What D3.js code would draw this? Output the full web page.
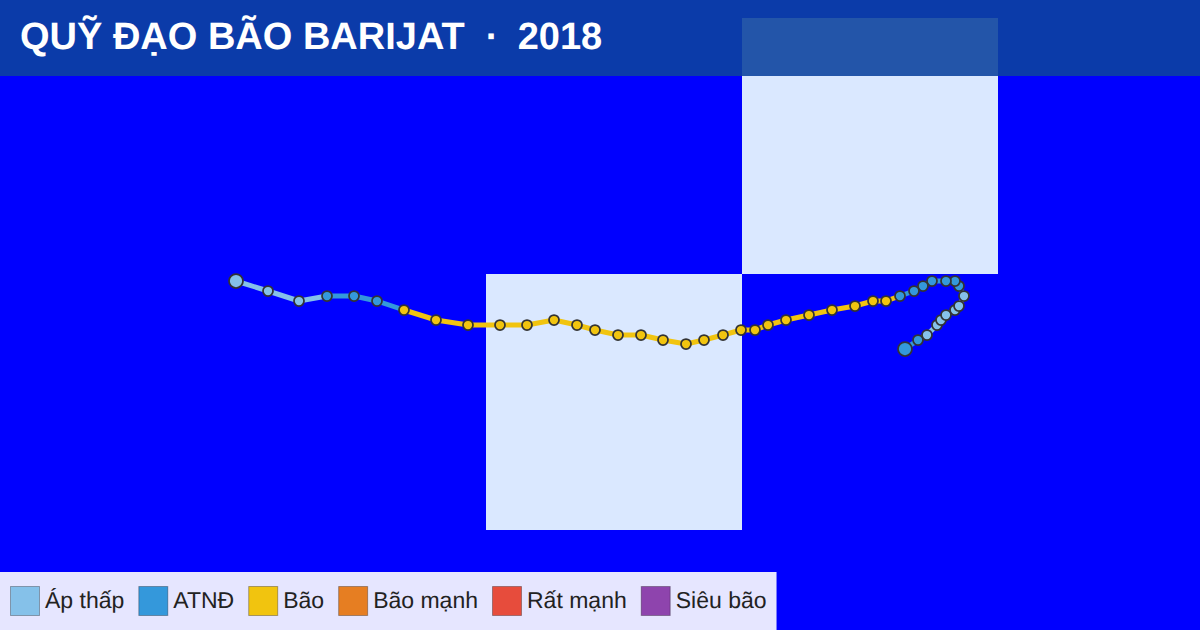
<!DOCTYPE html>
<html>
<head>
<meta charset="utf-8">
<script src="https://cdn.jsdelivr.net/npm/d3@7"></script>
<style>
html, body { margin: 0; padding: 0; background: #0000ff; }
svg { display: block; font-family: "Liberation Sans", Arial, sans-serif; text-rendering: geometricPrecision; }
</style>
</head>
<body>
<script>
// best track, east to west
var lons = [121.7, 122.0, 122.2, 122.4, 122.5, 122.6, 122.8, 122.9, 123.0, 122.9, 122.8, 122.6, 122.3, 122.1, 121.9, 121.6,
    121.28, 121.0, 120.6, 120.1, 119.6, 119.1, 118.7, 118.4, 118.1, 117.7, 117.3, 116.9, 116.38, 115.9, 115.4, 114.9, 114.5,
    114.0, 113.4, 112.8, 112.1, 111.4, 110.7, 110.1, 109.6, 109.0, 108.4, 107.7, 107.0];
var lats = [20.4, 20.6, 20.7, 20.9, 21.0, 21.1, 21.2, 21.3, 21.5, 21.7, 21.8, 21.8, 21.8, 21.7, 21.6, 21.5,
    21.4, 21.4, 21.3, 21.2, 21.1, 21.0, 20.9, 20.8, 20.8, 20.7, 20.6, 20.5, 20.6, 20.7, 20.7, 20.8, 20.9,
    21.0, 20.9, 20.9, 20.9, 21.0, 21.2, 21.4, 21.5, 21.5, 21.4, 21.6, 21.8];
var grades = [1, 1, 0, 0, 0, 0, 0, 0, 0, 1, 1, 1, 1, 1, 1, 1,
    2, 2, 2, 2, 2, 2, 2, 2, 2, 2, 2, 2, 2, 2, 2, 2, 2,
    2, 2, 2, 2, 2, 2, 1, 1, 1, 0, 0, 0];

var gradeNames = ["Áp thấp", "ATNĐ", "Bão", "Bão mạnh", "Rất mạnh", "Siêu bão"];
var gradeColors = ["#85c1e9", "#3498db", "#f1c40f", "#e67e22", "#e74c3c", "#8e44ad"];

// map tiles that came through (zoom 6)
var tileZoom = 6;
var tileCols = [53, 52];
var tileRows = [27, 28];

var titleMain = "QUỸ ĐẠO BÃO BARIJAT\u00a0\u00a0·\u00a0\u00a0";
var titleYear = "2018";

var width = 1200, height = 630;

var worldSize = 256 * Math.pow(2, tileZoom);
// translate carries the sub-pixel part of the map origin
var projection = d3.geoMercator()
    .scale(worldSize / (2 * Math.PI))
    .center([115, 21.1])
    .translate([599.8, 315.28]);

function tileCorner(col, row) {
    var lon = col / Math.pow(2, tileZoom) * 360 - 180;
    var n = Math.PI * (1 - 2 * row / Math.pow(2, tileZoom));
    var lat = Math.atan(Math.sinh(n)) * 180 / Math.PI;
    var p = projection([lon, lat]);
    return [Math.round(p[0]), Math.round(p[1])];
}

var color = d3.scaleOrdinal().domain(d3.range(gradeNames.length)).range(gradeColors);

var svg = d3.select("body").append("svg").attr("width", width).attr("height", height);

svg.append("rect").attr("width", width).attr("height", height).attr("fill", "#0000ff");

// tiles
svg.selectAll("rect.tile")
    .data(tileCols.map(function(c, i) { return tileCorner(c, tileRows[i]); }))
    .enter().append("rect")
    .attr("class", "tile")
    .attr("x", function(d) { return d[0]; })
    .attr("y", function(d) { return d[1]; })
    .attr("width", 256)
    .attr("height", 256)
    .attr("fill", "#dae8ff");

// track
var points = lons.map(function(lon, i) {
    var p = projection([lon, lats[i]]);
    return { x: Math.round(p[0]), y: Math.round(p[1]), grade: grades[i] };
});

svg.selectAll("line.seg")
    .data(points.slice(1))
    .enter().append("line")
    .attr("class", "seg")
    .attr("x1", function(d, i) { return points[i].x; })
    .attr("y1", function(d, i) { return points[i].y; })
    .attr("x2", function(d) { return d.x; })
    .attr("y2", function(d) { return d.y; })
    .attr("stroke", function(d) { return color(d.grade); })
    .attr("stroke-width", 5);

svg.selectAll("circle.pt")
    .data(points)
    .enter().append("circle")
    .attr("class", "pt")
    .attr("cx", function(d) { return d.x; })
    .attr("cy", function(d) { return d.y; })
    .attr("r", function(d, i) { return i == 0 || i == points.length - 1 ? 7 : 5; })
    .attr("fill", function(d) { return color(d.grade); })
    .attr("stroke", "#333")
    .attr("stroke-width", 1.75);

// header
svg.append("rect").attr("width", width).attr("height", 76).attr("fill", "#0c429e").attr("fill-opacity", 0.89);
var title = svg.append("text")
    .attr("x", 20)
    .attr("y", 49)
    .attr("fill", "#fff")
    .attr("font-size", 38)
    .attr("font-weight", "bold");
title.append("tspan").text(titleMain);
title.append("tspan").attr("dx", -2).text(titleYear);

// legend, laid out from the measured labels
var legend = svg.append("g");
var legendBg = legend.append("rect")
    .attr("y", 572)
    .attr("height", 58)
    .attr("fill", "#fff")
    .attr("fill-opacity", 0.9);

var cursor = 10;
gradeNames.forEach(function(name, i) {
    legend.append("rect")
        .attr("x", cursor + 0.5)
        .attr("y", 586.5)
        .attr("width", 29)
        .attr("height", 29)
        .attr("fill", gradeColors[i])
        .attr("stroke", "rgba(0,0,0,0.3)");
    var label = legend.append("text")
        .attr("x", cursor + 35)
        .attr("y", 608)
        .attr("font-size", 23)
        .attr("fill", "#222")
        .text(name);
    cursor += 35 + label.node().getComputedTextLength() + 14;
});
legendBg.attr("width", cursor - 4);
</script>
</body>
</html>
